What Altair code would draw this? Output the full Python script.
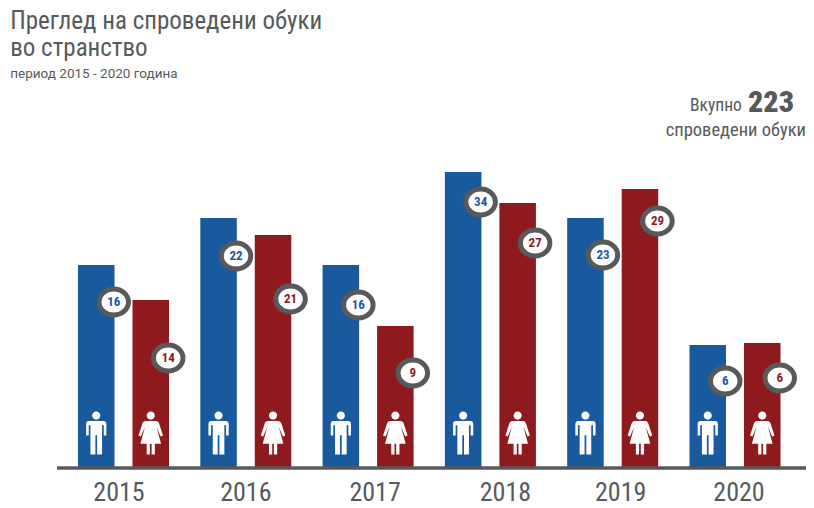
import altair as alt
import pandas as pd

years = ["2015", "2016", "2017", "2018", "2019", "2020"]
sexes = ["m", "f"]
counts_m = [16, 22, 16, 34, 23, 6]
counts_f = [14, 21, 9, 27, 29, 6]
# drawn heights (the source bars are not proportional to their labels)
drawn_m = [203, 250, 203, 296, 250, 123]
drawn_f = [168, 233, 142, 265, 279, 125]
badge_m = [166, 212, 163, 266, 213, 87]
badge_f = [110, 169, 95, 225, 247, 90]
year_shift = [-4.5, 0, 7, 15, 8, 4]
title_lines = ["Преглед на спроведени обуки", "во странство"]
subtitle = "период 2015 - 2020 година"
total = "223"

BLUE = "#185a9d"
RED = "#8f1a1e"
GREY = "#58595b"
NARROW = "Roboto Condensed, Roboto, sans-serif"

rows = []
for i, y in enumerate(years):
    rows.append(dict(year=y, sex="m", count=counts_m[i], drawn=drawn_m[i], badge=badge_m[i], icon=35))
    rows.append(dict(year=y, sex="f", count=counts_f[i], drawn=drawn_f[i], badge=badge_f[i], icon=35))
df = pd.DataFrame(rows)

x = alt.X("year:N", sort=years, title=None,
          scale=alt.Scale(domain=years, range=[5.35, 739.15], paddingInner=0, paddingOuter=0, round=False),
          axis=None)
xo = alt.XOffset("sex:N", sort=sexes, scale=alt.Scale(domain=sexes, paddingInner=0.33, paddingOuter=0.287, round=False))
y = alt.Y("drawn:Q", title=None, scale=alt.Scale(domain=[0, 460], nice=False), axis=None)
color = alt.Color("sex:N", legend=None, scale=alt.Scale(domain=sexes, range=[BLUE, RED]))

bars = alt.Chart(df).mark_bar().encode(x=x, xOffset=xo, y=y, color=color)

baseline = alt.Chart(pd.DataFrame({"t": [0]})).mark_rule(color=GREY, strokeWidth=3.5).encode(
    x=alt.value(0), x2=alt.value(749), y=alt.value(460))

MALE = ("M0,-1A0.19,0.19,0,1,1,0,-0.62A0.19,0.19,0,1,1,0,-1Z"
        "M-0.34,-0.56L0.34,-0.56Q0.47,-0.56,0.47,-0.42L0.47,0.12L0.35,0.12L0.35,-0.36L0.27,-0.36L0.27,1L0.04,1L0.04,0.1L-0.04,0.1L-0.04,1L-0.27,1L-0.27,-0.36L-0.35,-0.36L-0.35,0.12L-0.47,0.12L-0.47,-0.42Q-0.47,-0.56,-0.34,-0.56Z")
FEMALE = ("M0,-1A0.19,0.19,0,1,1,0,-0.62A0.19,0.19,0,1,1,0,-1Z"
          "M-0.24,-0.56L0.24,-0.56Q0.34,-0.56,0.38,-0.46L0.57,0.12L0.46,0.16L0.27,-0.28L0.48,0.5L0.19,0.5L0.19,1L0.04,1L0.04,0.5L-0.04,0.5L-0.04,1L-0.19,1L-0.19,0.5L-0.48,0.5L-0.27,-0.28L-0.46,0.16L-0.57,0.12L-0.38,-0.46Q-0.34,-0.56,-0.24,-0.56Z")
ICON_Y = alt.Y("icon:Q", scale=alt.Scale(domain=[0, 460], nice=False), axis=None)
icons = []
for s, path in (("m", MALE), ("f", FEMALE)):
    icons.append(alt.Chart(df[df.sex == s]).mark_point(shape=path, filled=True, fill="white", opacity=1, size=1850, strokeWidth=0)
                 .encode(x=x, xOffset=xo, y=ICON_Y))

# ellipse path drawn to the right of the bar centre, so the badge straddles the bar edge
ELLIPSE = "M0.186,0A1,0.88,0,1,1,2.186,0A1,0.88,0,1,1,0.186,0Z"
BADGE_Y = alt.Y("badge:Q", scale=alt.Scale(domain=[0, 460], nice=False), axis=None)
badges = alt.Chart(df).mark_point(shape=ELLIPSE, filled=True, fill="white", stroke=GREY, strokeWidth=5, opacity=1, size=870).encode(
    x=x, xOffset=xo, y=BADGE_Y)
badge_text = alt.Chart(df).mark_text(font=NARROW, fontWeight="bold", fontSize=13, align="center", baseline="middle", dx=17.5).encode(
    x=x, xOffset=xo, y=BADGE_Y, text="count:Q", color=color)

year_layers = []
for yr, shift in zip(years, year_shift):
    year_layers.append(
        alt.Chart(pd.DataFrame({"year": [yr]})).mark_text(font=NARROW, fontSize=26, color=GREY, align="center", baseline="middle", dx=shift)
        .encode(x=x, y=alt.value(485), text="year:N"))

def note(text, px, py, size, weight="normal", align="left"):
    return alt.Chart(pd.DataFrame({"t": [text]})).mark_text(font=NARROW, fontSize=size, fontWeight=weight, color=GREY, align=align, baseline="middle").encode(
        x=alt.value(px), y=alt.value(py), text="t:N")

notes = [
    note("Вкупно", 633, 98, 17.5),
    note(total, 691, 95, 30, 900),
    note("спроведени обуки", 749, 122, 18.5, align="right"),
]

chart = alt.layer(bars, baseline, *icons, badges, badge_text, *year_layers, *notes).properties(
    width=749, height=460,
    padding={"left": 49, "top": 0, "right": 0, "bottom": 40},
    autosize=alt.AutoSizeParams(type="none"),
    title=alt.TitleParams(text=title_lines, subtitle=subtitle, anchor="start", dx=-45, dy=76,
                          font=NARROW, fontSize=25, fontWeight="normal", color=GREY, lineHeight=27,
                          subtitleFont="Roboto", subtitleFontSize=13.5, subtitleColor=GREY, subtitlePadding=6),
).configure_view(stroke=None)

chart.save("out.html", embed_options={"renderer": "svg", "actions": False})
